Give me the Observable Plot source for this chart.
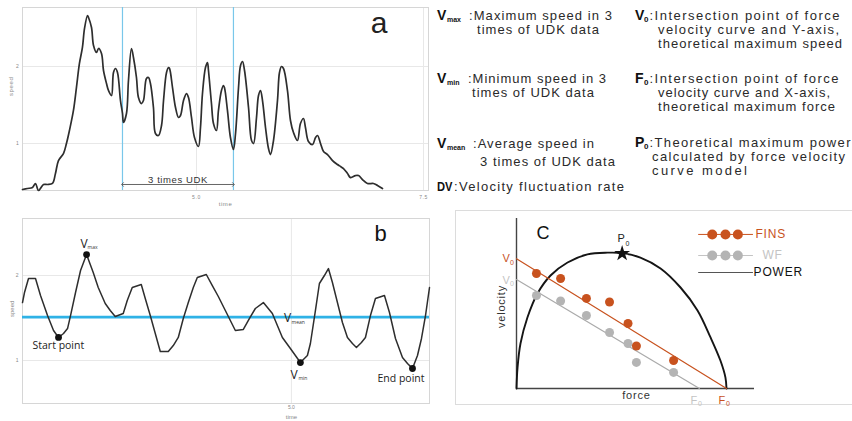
<!DOCTYPE html>
<html>
<head>
<meta charset="utf-8">
<script src="https://cdn.jsdelivr.net/npm/d3@7"></script>
<script src="https://cdn.jsdelivr.net/npm/@observablehq/plot@0.6"></script>
<style>
  html, body { margin:0; padding:0; background:#fff; }
  #root { position:relative; width:852px; height:421px; overflow:hidden; background:#fff; }
  #boxC { position:absolute; left:455px; top:210px; width:420px; height:193px; border:1px solid #dcdcdc; }
</style>
</head>
<body>
<div id="root"><div id="boxC"></div></div>
<script>
// ================= DATA =================
// Panel a: full trial speed curve
const timeA = [3.084,3.139,3.194,3.227,3.260,3.315,3.359,3.414,3.447,3.480,3.535,3.568,3.601,3.645,3.678,3.711,3.744,3.767,3.800,3.811,3.844,3.866,3.899,3.921,3.954,3.976,4.009,4.031,4.064,4.086,4.108,4.130,4.163,4.185,4.196,4.229,4.251,4.284,4.306,4.339,4.361,4.394,4.416,4.449,4.471,4.493,4.526,4.548,4.581,4.615,4.637,4.670,4.692,4.703,4.736,4.769,4.802,4.824,4.857,4.890,4.912,4.945,4.978,5.022,5.044,5.066,5.099,5.121,5.132,5.165,5.187,5.220,5.242,5.275,5.297,5.308,5.341,5.374,5.407,5.430,5.463,5.485,5.507,5.529,5.573,5.606,5.628,5.661,5.683,5.705,5.727,5.760,5.793,5.815,5.848,5.892,5.914,5.936,5.958,6.002,6.035,6.068,6.112,6.145,6.178,6.200,6.233,6.278,6.311,6.333,6.366,6.399,6.443,6.498,6.553,6.586,6.619,6.663,6.696,6.751,6.784,6.828,6.883,6.949,6.993,7.048];
const speedA = [0.403,0.416,0.429,0.481,0.390,0.468,0.468,0.481,0.610,0.779,0.870,1.000,1.169,1.429,1.727,2.039,2.247,2.494,2.662,2.636,2.506,2.273,2.182,2.234,2.169,1.948,1.779,1.688,1.623,1.922,1.974,1.922,1.558,1.390,1.273,1.390,1.818,2.234,2.117,1.857,1.597,1.519,1.558,1.844,1.857,1.779,1.468,1.130,1.104,1.234,1.558,1.922,1.987,1.974,1.727,1.468,1.338,1.364,1.558,1.649,1.597,1.338,1.078,0.961,1.208,1.649,1.987,2.052,1.948,1.519,1.260,1.169,1.429,1.688,1.753,1.727,1.429,1.078,0.922,1.130,1.727,2.013,2.065,1.948,1.468,1.039,1.000,1.338,1.623,1.688,1.558,1.208,0.935,0.857,1.039,1.558,1.922,2.000,1.974,1.688,1.299,1.143,1.039,1.260,1.325,1.208,1.026,0.987,1.078,1.104,1.000,0.896,0.857,0.779,0.727,0.701,0.675,0.610,0.558,0.584,0.584,0.532,0.481,0.481,0.455,0.416];
const ticksAY = [1, 2];
const ticksAX = [5.0, 7.5];
const udkBounds = [4.185, 5.407];
const udkArrowSpeed = 0.468;
const udkLabel = "3 times UDK";

// Panel b: 3 times UDK segment
const timeB = [4.194,4.200,4.212,4.233,4.248,4.269,4.287,4.302,4.317,4.329,4.338,4.353,4.368,4.386,4.406,4.421,4.442,4.457,4.472,4.496,4.508,4.523,4.550,4.562,4.577,4.592,4.607,4.631,4.646,4.661,4.676,4.691,4.706,4.718,4.745,4.763,4.781,4.802,4.814,4.832,4.856,4.874,4.892,4.916,4.943,4.973,4.997,5.027,5.048,5.057,5.072,5.084,5.099,5.111,5.123,5.138,5.153,5.168,5.183,5.195,5.210,5.222,5.237,5.252,5.279,5.294,5.312,5.333,5.348,5.363,5.378,5.390,5.402,5.414];
const speedB = [1.682,1.800,1.965,1.965,1.765,1.529,1.353,1.271,1.318,1.376,1.529,1.800,2.059,2.247,2.035,1.859,1.671,1.588,1.518,1.553,1.706,1.859,1.894,1.729,1.529,1.318,1.106,1.106,1.176,1.271,1.494,1.682,1.859,1.976,2.012,1.882,1.753,1.588,1.494,1.353,1.365,1.494,1.612,1.682,1.553,1.271,1.141,0.976,1.059,1.200,1.588,1.906,2.000,2.082,1.918,1.682,1.447,1.271,1.200,1.153,1.212,1.271,1.529,1.729,1.765,1.565,1.259,1.035,0.965,0.906,1.059,1.259,1.529,1.859];
const vMeanB = 1.51;
const keyNames = ["Start point", "Vmax", "Vmin", "End point"];
const keyTime = [4.302, 4.386, 5.027, 5.363];
const keySpeed = [1.271, 2.247, 0.976, 0.906];
const ticksBY = [1, 2];
const ticksBX = [5.0];

// Panel c: force-velocity model
const pointForce = [9.5, 21.0, 33.3, 44.3, 53.1, 57.1, 74.8];
const finsVelocity = [85.2, 81.5, 66.7, 64.1, 48.1, 31.5, 20.7];
const wfVelocity = [68.9, 64.8, 54.1, 41.5, 33.3, 19.3, 11.9];
const finsFitForce = [0, 100];
const finsFitVelocity = [96.1, 0];
const wfFitForce = [0, 87.1];
const wfFitVelocity = [80.7, 0];
const powerForce = [0, 0.5, 1.9, 5.2, 10.0, 16.2, 24.3, 33.8, 43.3, 50.3, 59.0, 68.6, 78.1, 86.2, 92.4, 97.1, 99.5, 100];
const powerVelocity = [0, 15.6, 33.3, 52.6, 70.4, 83.7, 93.3, 99.3, 100.6, 100.3, 97.0, 88.9, 74.8, 57.8, 37.8, 20.7, 8.1, 0];
const p0Force = 50.3, p0Velocity = 100.0;
const legendNames = ["FINS", "WF", "POWER"];
const legendVelocity = [114.1, 98.5, 85.9];
const legendLineForce = [86.7, 112.4];
const legendDotForce = [93.2, 99.5, 105.4];
const legendTextForce = [113.8, 117.1, 112.9];

// Glossary text
const glossKeys = ["V", "V", "V", "DV", "V", "F", "P"];
const glossSubs = ["max", "min", "mean", "", "0", "0", "0"];
const glossLines = [
  [":Maximum speed in 3", "times of UDK data"],
  [":Minimum speed in 3", "times of UDK data"],
  [":Average speed in", "3 times of UDK data"],
  [":Velocity fluctuation rate"],
  [":Intersection point of force", "velocity curve and Y-axis,", "theoretical maximum speed"],
  [":Intersection point of force", "velocity curve and X-axis,", "theoretical maximum force"],
  [":Theoretical maximum power", "calculated by force velocity", "curve model"]
];

// ================= LAYOUT =================
const SANS = "'Liberation Sans', Arial, sans-serif";
const OPEN = "'Open Sans', 'Liberation Sans', sans-serif";
const root = document.getElementById("root");
function place(svg, left, top) {
  svg.style.position = "absolute";
  svg.style.left = left + "px";
  svg.style.top = top + "px";
  root.appendChild(svg);
}
const intFmt = d3.format("d");
const oneFmt = d3.format(".1f");

// ---------- Panel a ----------
const dataA = timeA.map((t, i) => ({t, v: speedA[i]}));
const mid = (udkBounds[0] + udkBounds[1]) / 2;
const plotA = Plot.plot({
  width: 432, height: 212,
  marginLeft: 22, marginRight: 4, marginTop: 7, marginBottom: 22,
  x: {domain: [3.084, 7.555], axis: null},
  y: {domain: [0.39, 2.766], axis: null},
  style: {fontFamily: SANS, background: "transparent", overflow: "visible", letterSpacing: "0.6px"},
  marks: [
    Plot.gridY(ticksAY, {stroke: "#e8e8e8", strokeOpacity: 1}),
    Plot.gridX(ticksAX, {stroke: "#e8e8e8", strokeOpacity: 1}),
    Plot.frame({stroke: "#d6d6d6"}),
    Plot.axisY(ticksAY, {tickSize: 0, tickPadding: 3, fontSize: 5, fill: "#888", label: null, tickFormat: intFmt}),
    Plot.axisX(ticksAX, {tickSize: 0, tickPadding: 5, fontSize: 5, fill: "#888", label: null, tickFormat: oneFmt}),
    Plot.text(["speed"], {frameAnchor: "left", dx: -11, dy: -3, rotate: -90, fontSize: 6, fill: "#888"}),
    Plot.text(["time"], {frameAnchor: "bottom", dy: 15, fontSize: 6, fill: "#888"}),
    Plot.ruleX(udkBounds, {stroke: "#79c7ea", strokeWidth: 1.2}),
    Plot.line(dataA, {x: "t", y: "v", curve: "catmull-rom", stroke: "#2e2e2e", strokeWidth: 1.7}),
    Plot.line([{t: mid, v: udkArrowSpeed}, {t: udkBounds[0], v: udkArrowSpeed}], {x: "t", y: "v", stroke: "#555", strokeWidth: 0.9, markerEnd: "arrow"}),
    Plot.line([{t: mid, v: udkArrowSpeed}, {t: udkBounds[1], v: udkArrowSpeed}], {x: "t", y: "v", stroke: "#555", strokeWidth: 0.9, markerEnd: "arrow"}),
    Plot.text([{t: mid, label: udkLabel}], {x: "t", y: udkArrowSpeed, text: "label", dy: -1.5, lineAnchor: "bottom", fontSize: 9.5, fill: "#333"}),
    Plot.text(["a"], {frameAnchor: "top-right", textAnchor: "middle", dx: -49, dy: 25, lineAnchor: "bottom", fontSize: 30, fill: "#222", fontFamily: "'Liberation Sans Narrow', 'Liberation Sans', sans-serif"})
  ]
});
place(plotA, 0, 0);

// ---------- Panel b ----------
const dataB = timeB.map((t, i) => ({t, v: speedB[i]}));
const keys = keyNames.map((name, i) => ({name, t: keyTime[i], v: keySpeed[i]}));
const plotB = Plot.plot({
  width: 432, height: 209,
  marginLeft: 22, marginRight: 3, marginTop: 6, marginBottom: 18,
  x: {domain: [4.194, 5.414], axis: null},
  y: {domain: [0.494, 2.671], axis: null},
  style: {fontFamily: OPEN, background: "transparent", overflow: "visible"},
  marks: [
    Plot.gridY(ticksBY, {stroke: "#e8e8e8", strokeOpacity: 1}),
    Plot.gridX(ticksBX, {stroke: "#e8e8e8", strokeOpacity: 1}),
    Plot.frame({stroke: "#d6d6d6"}),
    Plot.axisY(ticksBY, {tickSize: 0, tickPadding: 4, fontSize: 5, fill: "#888", label: null, fontFamily: SANS, tickFormat: intFmt}),
    Plot.axisX(ticksBX, {tickSize: 0, tickPadding: 2, fontSize: 5, fill: "#888", label: null, tickFormat: oneFmt, fontFamily: SANS}),
    Plot.text(["speed"], {frameAnchor: "left", dx: -10, dy: 6, rotate: -90, fontSize: 6, fill: "#888", fontFamily: SANS}),
    Plot.text([{t: ticksBX[0], label: "time"}], {x: "t", text: "label", frameAnchor: "bottom", dy: 15, fontSize: 6, fill: "#888", fontFamily: SANS}),
    Plot.ruleY([vMeanB], {stroke: "#2fb2e6", strokeWidth: 2.6}),
    Plot.line(dataB, {x: "t", y: "v", stroke: "#2e2e2e", strokeWidth: 1.5}),
    Plot.dot(keys, {x: "t", y: "v", r: 3.4, fill: "#111"}),
    // labels anchored to the key points
    Plot.text([keys[0]], {x: "t", y: "v", text: () => "Start point", textAnchor: "start", lineAnchor: "bottom", dx: -26, dy: 12, fontSize: 10.5, fill: "#222"}),
    Plot.text([keys[3]], {x: "t", y: "v", text: () => "End point", textAnchor: "start", lineAnchor: "bottom", dx: -35, dy: 14, fontSize: 10.5, fill: "#222"}),
    Plot.text([keys[1]], {x: "t", y: "v", text: () => "V", textAnchor: "start", lineAnchor: "bottom", dx: -6, dy: -7, fontSize: 12, fill: "#222"}),
    Plot.text([keys[1]], {x: "t", y: "v", text: () => "max", textAnchor: "start", lineAnchor: "bottom", dx: 1, dy: -5.5, fontSize: 5, fill: "#333"}),
    Plot.text([keys[2]], {x: "t", y: "v", text: () => "V", textAnchor: "start", lineAnchor: "bottom", dx: -10, dy: 16, fontSize: 12, fill: "#222"}),
    Plot.text([keys[2]], {x: "t", y: "v", text: () => "min", textAnchor: "start", lineAnchor: "bottom", dx: -2, dy: 17.5, fontSize: 5, fill: "#333"}),
    Plot.text([{t: 4.978}], {x: "t", y: vMeanB, text: () => "V", textAnchor: "start", lineAnchor: "bottom", dy: 4.5, fontSize: 12, fill: "#222"}),
    Plot.text([{t: 4.978}], {x: "t", y: vMeanB, text: () => "mean", textAnchor: "start", lineAnchor: "bottom", dx: 7.5, dy: 7, fontSize: 5, fill: "#333"}),
    Plot.text(["b"], {frameAnchor: "top-right", textAnchor: "middle", dx: -49, dy: 22, lineAnchor: "bottom", fontSize: 22, fill: "#111", fontFamily: SANS})
  ]
});
place(plotB, 0, 212);

// ---------- Panel c ----------
const finsData = pointForce.map((f, i) => ({f, v: finsVelocity[i]}));
const wfData = pointForce.map((f, i) => ({f, v: wfVelocity[i]}));
const finsFit = finsFitForce.map((f, i) => ({f, v: finsFitVelocity[i]}));
const wfFit = wfFitForce.map((f, i) => ({f, v: wfFitVelocity[i]}));
const powerData = powerForce.map((f, i) => ({f, v: powerVelocity[i]}));
const p0 = {f: p0Force, v: p0Velocity};
const ORANGE = "#c8521e", GREY = "#b4b4b4", LGREY = "#c4c4c4";
const legendColors = [ORANGE, LGREY, "#111"];
const legendLines = legendNames.map((name, i) => legendLineForce.map(f => ({name, f, v: legendVelocity[i]})));
const legendDots = legendNames.slice(0, 2).flatMap((name, i) => legendDotForce.map(f => ({name, f, v: legendVelocity[i]})));
const legendLabels = legendNames.map((name, i) => ({name, f: legendTextForce[i], v: legendVelocity[i]}));
const plotC = Plot.plot({
  width: 397, height: 194,
  marginLeft: 61, marginRight: 98, marginTop: 8, marginBottom: 16,
  x: {domain: [0, 113.33], axis: null},
  y: {domain: [0, 125.9], axis: null},
  style: {fontFamily: SANS, background: "transparent", overflow: "visible", letterSpacing: "0.8px"},
  marks: [
    Plot.ruleX([0], {stroke: "#444", strokeWidth: 1.4}),
    Plot.ruleY([0], {stroke: "#444", strokeWidth: 1.4}),
    Plot.line(powerData, {x: "f", y: "v", curve: "catmull-rom", stroke: "#151515", strokeWidth: 1.9}),
    Plot.line(wfFit, {x: "f", y: "v", stroke: "#aaaaaa", strokeWidth: 1.2}),
    Plot.line(finsFit, {x: "f", y: "v", stroke: ORANGE, strokeWidth: 1.2}),
    Plot.dot(wfData, {x: "f", y: "v", r: 4.5, fill: GREY}),
    Plot.dot(finsData, {x: "f", y: "v", r: 4.5, fill: ORANGE}),
    Plot.dot([p0], {x: "f", y: "v", symbol: "star", r: 5, fill: "#111"}),
    // axis names
    Plot.text([{f: 57.1}], {x: "f", y: 0, text: () => "force", dy: 10, lineAnchor: "bottom", fontSize: 11, fill: "#333"}),
    Plot.text([{v: 60.7}], {x: 0, y: "v", text: () => "velocity", dx: -15, rotate: -90, fontSize: 11, fill: "#333"}),
    // intercept labels
    Plot.text([finsFit[0]], {x: "f", y: "v", text: () => "V", textAnchor: "start", lineAnchor: "bottom", dx: -14, dy: 3.7, fontSize: 11, fill: ORANGE}),
    Plot.text([finsFit[0]], {x: "f", y: "v", text: () => "0", textAnchor: "start", lineAnchor: "bottom", dx: -6.5, dy: 6, fontSize: 7, fill: ORANGE}),
    Plot.text([wfFit[0]], {x: "f", y: "v", text: () => "V", textAnchor: "start", lineAnchor: "bottom", dx: -14, dy: 4, fontSize: 11, fill: LGREY}),
    Plot.text([wfFit[0]], {x: "f", y: "v", text: () => "0", textAnchor: "start", lineAnchor: "bottom", dx: -6.5, dy: 6.5, fontSize: 7, fill: LGREY}),
    Plot.text([finsFit[1]], {x: "f", y: "v", text: () => "F", textAnchor: "start", lineAnchor: "bottom", dx: -8, dy: 15, fontSize: 11, fill: ORANGE}),
    Plot.text([finsFit[1]], {x: "f", y: "v", text: () => "0", textAnchor: "start", lineAnchor: "bottom", dx: -0.5, dy: 17.5, fontSize: 7, fill: ORANGE}),
    Plot.text([wfFit[1]], {x: "f", y: "v", text: () => "F", textAnchor: "start", lineAnchor: "bottom", dx: -9, dy: 15, fontSize: 11, fill: LGREY}),
    Plot.text([wfFit[1]], {x: "f", y: "v", text: () => "0", textAnchor: "start", lineAnchor: "bottom", dx: -1.5, dy: 17.5, fontSize: 7, fill: LGREY}),
    Plot.text([p0], {x: "f", y: "v", text: () => "P", textAnchor: "start", lineAnchor: "bottom", dx: -4.7, dy: -11, fontSize: 11, fill: "#222"}),
    Plot.text([p0], {x: "f", y: "v", text: () => "0", textAnchor: "start", lineAnchor: "bottom", dx: 3.3, dy: -7, fontSize: 7, fill: "#222"}),
    // panel letter
    Plot.text(["C"], {frameAnchor: "top-left", textAnchor: "middle", dx: 27, dy: 20.5, lineAnchor: "bottom", fontSize: 18, fill: "#111"}),
    // legend
    ...legendLines.map((d, i) => Plot.line(d, {x: "f", y: "v", stroke: i === 2 ? "#555" : legendColors[i], strokeWidth: 1})),
    Plot.dot(legendDots, {x: "f", y: "v", r: 5, fill: d => d.name === "FINS" ? ORANGE : GREY}),
    Plot.text(legendLabels, {x: "f", y: "v", text: "name", textAnchor: "start", fontSize: 12, fill: d => legendColors[legendNames.indexOf(d.name)]})
  ]
});
place(plotC, 455, 210);

// ---------- Glossary ----------
const glossLayout = [
  {kx: 437, sx: 447, y: [20, 34], x: [469, 477], w: [143, 122]},
  {kx: 437, sx: 447, y: [83, 97], x: [468, 472], w: [138, 122]},
  {kx: 437, sx: 447, y: [148, 166], x: [473, 480], w: [121, 135]},
  {kx: 437, sx: 0, y: [191], x: [454], w: [170]},
  {kx: 635, sx: 644, y: [20, 34, 48], x: [649.5, 658, 658], w: [190, 181, 184]},
  {kx: 635, sx: 644, y: [83, 97, 111], x: [649.5, 658, 658], w: [189, 172, 177]},
  {kx: 635, sx: 644, y: [147, 161, 175], x: [649.5, 652, 652], w: [201, 193, 95]}
];
const gsvg = d3.create("svg").attr("width", 852).attr("height", 421)
  .style("position", "absolute").style("left", "0px").style("top", "0px").style("pointer-events", "none");
const gg = gsvg.append("g").attr("font-family", SANS);
glossKeys.forEach((k, i) => {
  const L = glossLayout[i];
  const key = gg.append("text").attr("x", L.kx).attr("y", L.y[0]).attr("font-weight", "bold")
    .attr("font-size", k === "DV" ? 13 : 14).attr("fill", "#111").text(k);
  if (k === "DV") key.attr("textLength", 15.5).attr("lengthAdjust", "spacingAndGlyphs");
  if (glossSubs[i]) {
    gg.append("text").attr("x", L.sx).attr("y", L.y[0] + 2).attr("font-weight", "bold")
      .attr("font-size", glossSubs[i] === "0" ? 8 : 7).attr("fill", "#111").text(glossSubs[i]);
  }
  glossLines[i].forEach((line, j) => {
    gg.append("text").attr("x", L.x[j]).attr("y", L.y[j]).attr("font-size", 13).attr("fill", "#2a2a2a")
      .attr("textLength", L.w[j]).attr("lengthAdjust", "spacing").text(line);
  });
});
root.appendChild(gsvg.node());
</script>
</body>
</html>
